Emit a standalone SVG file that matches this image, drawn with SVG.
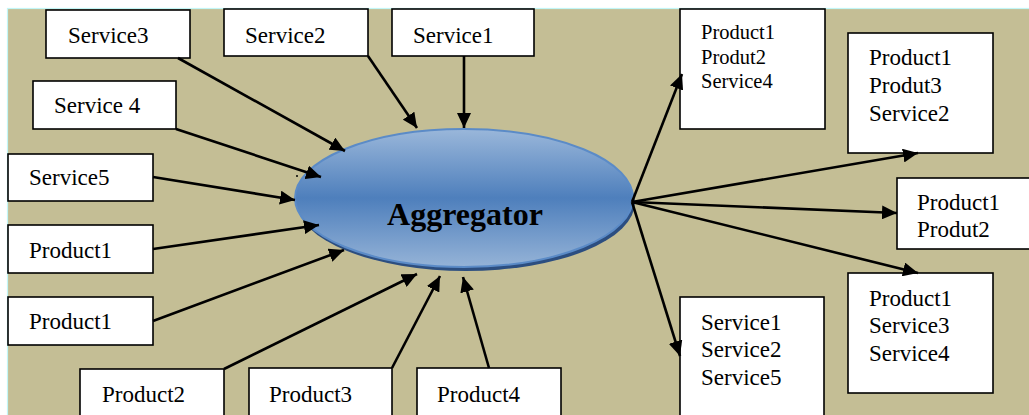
<svg xmlns="http://www.w3.org/2000/svg" width="1029" height="415" viewBox="0 0 1029 415">
<style>
.box{fill:#fff;stroke:#000;stroke-width:1.6}
.c line{stroke:#000;stroke-width:2.6}
.in{marker-end:url(#ah)}
</style>
<defs>
<marker id="ah" markerUnits="userSpaceOnUse" markerWidth="16" markerHeight="14" refX="15" refY="7" orient="auto">
<path d="M0,0 L15,7 L0,14 z" fill="#000"/>
</marker>
<linearGradient id="g" x1="0" y1="0" x2="0" y2="1">
<stop offset="0" stop-color="#9AB7DA"/>
<stop offset="0.5" stop-color="#4E7FBC"/>
<stop offset="1" stop-color="#95B3D7"/>
</linearGradient>
</defs>
<rect x="0" y="0" width="1029" height="415" fill="#fff"/>
<rect x="7.5" y="8.5" width="1030" height="420" fill="#C4BE95" stroke="#C2F6F6" stroke-width="1.2"/>

<g font-family="Liberation Serif, Times New Roman, serif" fill="#000">
<g id="aggregator">
<ellipse cx="466" cy="202" rx="169" ry="69" fill="#2C4E80"/>
<ellipse cx="464" cy="198" rx="169" ry="69" fill="url(#g)" stroke="#5B8BC7" stroke-width="2"/>
<text x="465" y="225" text-anchor="middle" font-size="32" font-weight="bold">Aggregator</text>
</g>

<g font-size="23">
<g id="service3"><rect class="box" x="46" y="10" width="144" height="48"/><text x="68" y="43">Service3</text></g>
<g id="service2"><rect class="box" x="224" y="9" width="144" height="47"/><text x="245" y="43">Service2</text></g>
<g id="service1"><rect class="box" x="392" y="9" width="142" height="47"/><text x="413" y="43">Service1</text></g>
<g id="service4"><rect class="box" x="33" y="81" width="143" height="48"/><text x="54" y="113">Service 4</text></g>
<g id="service5"><rect class="box" x="8" y="154" width="145" height="47"/><text x="29" y="185">Service5</text></g>
<g id="product1a"><rect class="box" x="8" y="225" width="145" height="48"/><text x="29" y="258">Product1</text></g>
<g id="product1b"><rect class="box" x="8" y="297" width="145" height="48"/><text x="29" y="329">Product1</text></g>
<g id="product2"><rect class="box" x="80" y="369" width="144" height="60"/><text x="102" y="402">Product2</text></g>
<g id="product3"><rect class="box" x="249" y="368" width="143" height="60"/><text x="269" y="402">Product3</text></g>
<g id="product4"><rect class="box" x="417" y="368" width="144" height="60"/><text x="437" y="402">Product4</text></g>

<g id="outA" font-size="20.5"><rect class="box" x="680" y="9" width="145" height="120"/>
<text x="701" y="39">Product1</text><text x="701" y="64">Produt2</text><text x="701" y="88">Service4</text></g>
<g id="outB"><rect class="box" x="848" y="33" width="145" height="120"/>
<text x="869" y="65">Product1</text><text x="869" y="93">Produt3</text><text x="869" y="121">Service2</text></g>
<g id="outC"><rect class="box" x="897" y="178" width="140" height="71"/>
<text x="917" y="210">Product1</text><text x="917" y="237">Produt2</text></g>
<g id="outD"><rect class="box" x="848" y="273" width="145" height="120"/>
<text x="869" y="306">Product1</text><text x="869" y="333">Service3</text><text x="869" y="361">Service4</text></g>
<g id="outE"><rect class="box" x="680" y="297" width="144" height="130"/>
<text x="701" y="330">Service1</text><text x="701" y="357">Service2</text><text x="701" y="385">Service5</text></g>
</g>
</g>

<g id="connectors" class="c">
<line class="in" x1="178" y1="58" x2="345" y2="151"/>
<line class="in" x1="368" y1="56" x2="417" y2="128"/>
<line class="in" x1="464" y1="56" x2="464" y2="128"/>
<line class="in" x1="176" y1="129" x2="321" y2="177"/>
<line class="in" x1="153" y1="177" x2="295" y2="200"/>
<line class="in" x1="153" y1="249" x2="319" y2="225"/>
<line class="in" x1="153" y1="321" x2="344" y2="250"/>
<line class="in" x1="224" y1="369" x2="417" y2="274"/>
<line class="in" x1="392" y1="368" x2="440" y2="276"/>
<line class="in" x1="489" y1="368" x2="463" y2="277"/>
<line class="in" x1="632" y1="202" x2="682" y2="74"/>
<line class="in" x1="632" y1="202" x2="918" y2="153"/>
<line class="in" x1="632" y1="202" x2="897" y2="213"/>
<line class="in" x1="632" y1="202" x2="918" y2="273"/>
<line class="in" x1="632" y1="202" x2="680" y2="356"/>
</g>
<circle cx="297" cy="176" r="1" fill="#000"/>
</svg>
